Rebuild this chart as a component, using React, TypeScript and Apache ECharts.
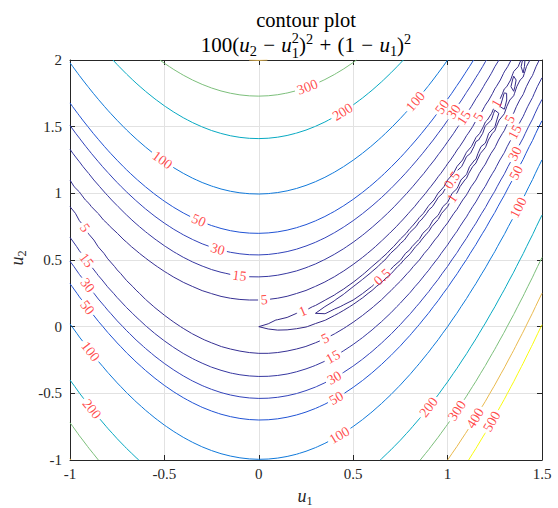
import React, { useEffect, useRef } from "react";
import * as echarts from "echarts";

const W = 558, H = 508;
const GL = 70, GT = 60, GW = 472, GH = 400;
const U1_MIN = -1, U1_MAX = 1.5, U2_MIN = -1, U2_MAX = 2, TICK_STEP = 0.5;
const GRID_STEP = 0.05;
const SERIF = "'Liberation Serif', 'DejaVu Serif', serif";

// contour levels of the plotted function (title)
const levels = [0.5, 1, 5, 15, 30, 50, 100, 200, 300, 400, 500];

// inline contour labels: level and (u1, u2) position
const labelLevel = [300, 200, 100, 50, 30, 15, 5, 1, 5, 15, 30, 50, 100, 0.5, 1, 100, 50, 30, 15, 5, 15, 30, 50, 100, 200, 5, 1, 0.5, 5, 15, 30, 50, 100, 200, 300, 400, 500];
const labelU1 = [0.255, 0.441, 0.827, 0.965, 1.034, 1.082, 1.156, 1.256, 1.331, 1.357, 1.352, 1.357, 1.368, 1.023, 1.023, -0.507, -0.317, -0.216, -0.1, -0.915, -0.91, -0.905, -0.905, -0.889, -0.878, 0.0275, 0.229, 0.653, 0.351, 0.388, 0.398, 0.404, 0.42, 0.891, 1.044, 1.145, 1.23];
const labelU2 = [1.805, 1.617, 1.692, 1.655, 1.61, 1.572, 1.58, 1.677, 1.557, 1.46, 1.3, 1.16, 0.897, 1.1, 0.965, 1.257, 0.8, 0.59, 0.395, 0.747, 0.5, 0.3125, 0.147, -0.183, -0.61, 0.215, 0.1325, 0.3725, -0.085, -0.2125, -0.378, -0.52, -0.7975, -0.595, -0.625, -0.685, -0.7075];

// MATLAB parula colormap (64 entries)
const PARULA = [[0.2081,0.1663,0.5292],[0.2116,0.1898,0.5777],[0.2123,0.2138,0.627],[0.2081,0.2386,0.6771],[0.1959,0.2645,0.7279],[0.1707,0.2919,0.7792],[0.1253,0.3242,0.8303],[0.0591,0.3598,0.8683],[0.0117,0.3875,0.882],[0.006,0.4086,0.8828],[0.0165,0.4266,0.8786],[0.0329,0.443,0.872],[0.0498,0.4586,0.8641],[0.0629,0.4737,0.8554],[0.0723,0.4887,0.8467],[0.0779,0.504,0.8384],[0.0793,0.52,0.8312],[0.0749,0.5375,0.8263],[0.0641,0.557,0.824],[0.0488,0.5772,0.8228],[0.0343,0.5966,0.8199],[0.0265,0.6137,0.8135],[0.0239,0.6287,0.8038],[0.0231,0.6418,0.7913],[0.0228,0.6535,0.7768],[0.0267,0.6642,0.7607],[0.0384,0.6743,0.7436],[0.059,0.6838,0.7254],[0.0843,0.6928,0.7062],[0.1133,0.7015,0.6859],[0.1453,0.7098,0.6646],[0.1801,0.7177,0.6424],[0.2178,0.725,0.6193],[0.2586,0.7317,0.5954],[0.3022,0.7376,0.5712],[0.3482,0.7424,0.5473],[0.3953,0.7459,0.5244],[0.442,0.7481,0.5033],[0.4871,0.7491,0.484],[0.53,0.7491,0.4661],[0.5709,0.7485,0.4494],[0.6099,0.7473,0.4337],[0.6473,0.7456,0.4188],[0.6834,0.7435,0.4044],[0.7184,0.7411,0.3905],[0.7525,0.7384,0.3768],[0.7858,0.7356,0.3633],[0.8185,0.7327,0.3498],[0.8507,0.7299,0.336],[0.8824,0.7274,0.3217],[0.9139,0.7258,0.3063],[0.945,0.7261,0.2886],[0.9739,0.7314,0.2666],[0.9938,0.7455,0.2403],[0.999,0.7653,0.2164],[0.9955,0.7861,0.1967],[0.988,0.8066,0.1794],[0.9789,0.8271,0.1633],[0.9697,0.8481,0.1475],[0.9626,0.8705,0.1309],[0.9589,0.8949,0.1132],[0.9598,0.9218,0.0948],[0.9661,0.9514,0.0755],[0.9763,0.9831,0.0538]];

function steps(a: number, b: number, h: number): number[] {
  const n = Math.round((b - a) / h);
  return Array.from({ length: n + 1 }, (_, i) => +(a + i * h).toFixed(10));
}
const u1Grid = steps(U1_MIN, U1_MAX, GRID_STEP);
const u2Grid = steps(U2_MIN, U2_MAX, GRID_STEP);
const rosenbrock = (u1: number, u2: number) => 100 * (u2 - u1 * u1) ** 2 + (1 - u1) ** 2;
const Z = u2Grid.map((y) => u1Grid.map((x) => rosenbrock(x, y)));

const SX = GW / (U1_MAX - U1_MIN), SY = GH / (U2_MAX - U2_MIN);
const toPx = (p: number[]) => [GL + (p[0] - U1_MIN) * SX, GT + (U2_MAX - p[1]) * SY];
const fromPx = (p: number[]) => [p[0] / SX - GL / SX + U1_MIN, U2_MAX - (p[1] - GT) / SY];

function levelColor(L: number): string {
  const t = (L - levels[0]) / (levels[levels.length - 1] - levels[0]);
  const c = PARULA[Math.max(0, Math.min(63, Math.round(t * 63)))];
  return "rgb(" + c.map((v) => Math.round(v * 255)).join(",") + ")";
}

function buildContours(L: number): number[][][] {
  const nx = u1Grid.length, ny = u2Grid.length;
  const pts = new Map<number, number[]>();
  const segs: number[][] = [];
  const ptH = (i: number, j: number) => {
    const k = (j * nx + i) * 2;
    if (!pts.has(k)) {
      const a = Z[j][i], b = Z[j][i + 1];
      const t = (L - a) / (b - a);
      pts.set(k, [u1Grid[i] + t * (u1Grid[i + 1] - u1Grid[i]), u2Grid[j]]);
    }
    return k;
  };
  const ptV = (i: number, j: number) => {
    const k = (j * nx + i) * 2 + 1;
    if (!pts.has(k)) {
      const a = Z[j][i], b = Z[j + 1][i];
      const t = (L - a) / (b - a);
      pts.set(k, [u1Grid[i], u2Grid[j] + t * (u2Grid[j + 1] - u2Grid[j])]);
    }
    return k;
  };
  for (let j = 0; j < ny - 1; j++) {
    for (let i = 0; i < nx - 1; i++) {
      const z00 = Z[j][i], z10 = Z[j][i + 1], z11 = Z[j + 1][i + 1], z01 = Z[j + 1][i];
      const a00 = z00 > L, a10 = z10 > L, a11 = z11 > L, a01 = z01 > L;
      const cross: number[] = [];
      if (a00 !== a10) cross.push(ptH(i, j));
      if (a10 !== a11) cross.push(ptV(i + 1, j));
      if (a01 !== a11) cross.push(ptH(i, j + 1));
      if (a00 !== a01) cross.push(ptV(i, j));
      if (cross.length === 2) segs.push([cross[0], cross[1]]);
      else if (cross.length === 4) {
        const [b, r, t, l] = cross;
        const c = (z00 + z10 + z11 + z01) / 4 > L;
        if (c === a00) { segs.push([b, r]); segs.push([t, l]); }
        else { segs.push([l, b]); segs.push([r, t]); }
      }
    }
  }
  const adj = new Map<number, number[]>();
  segs.forEach((s, idx) => {
    for (const e of s) {
      if (!adj.has(e)) adj.set(e, []);
      adj.get(e)!.push(idx);
    }
  });
  const used = new Array(segs.length).fill(false);
  const polys: number[][][] = [];
  for (let s = 0; s < segs.length; s++) {
    if (used[s]) continue;
    used[s] = true;
    const chain = [segs[s][0], segs[s][1]];
    let cur = segs[s][1];
    for (;;) {
      const nxt = (adj.get(cur) || []).find((k) => !used[k]);
      if (nxt === undefined) break;
      used[nxt] = true;
      const other = segs[nxt][0] === cur ? segs[nxt][1] : segs[nxt][0];
      chain.push(other);
      cur = other;
    }
    cur = segs[s][0];
    for (;;) {
      const nxt = (adj.get(cur) || []).find((k) => !used[k]);
      if (nxt === undefined) break;
      used[nxt] = true;
      const other = segs[nxt][0] === cur ? segs[nxt][1] : segs[nxt][0];
      chain.unshift(other);
      cur = other;
    }
    polys.push(chain.map((e) => pts.get(e)!));
  }
  return polys;
}

let measureCtx: CanvasRenderingContext2D | null = null;
function textW(t: string, size: number, italic: boolean): number {
  if (!measureCtx) measureCtx = document.createElement("canvas").getContext("2d");
  measureCtx!.font = (italic ? "italic " : "") + size + "px " + SERIF;
  return measureCtx!.measureText(t).width;
}

type Rect = { cx: number; cy: number; ex: number[]; ny: number[]; hw: number; hh: number };

function insideInterval(p0: number[], p1: number[], r: Rect): number[] | null {
  const u0 = (p0[0] - r.cx) * r.ex[0] + (p0[1] - r.cy) * r.ex[1];
  const v0 = (p0[0] - r.cx) * r.ny[0] + (p0[1] - r.cy) * r.ny[1];
  const u1 = (p1[0] - r.cx) * r.ex[0] + (p1[1] - r.cy) * r.ex[1];
  const v1 = (p1[0] - r.cx) * r.ny[0] + (p1[1] - r.cy) * r.ny[1];
  let t0 = 0, t1 = 1;
  const clip = (a: number, da: number, lim: number) => {
    if (Math.abs(da) < 1e-12) return Math.abs(a) < lim;
    let ta = (-lim - a) / da, tb = (lim - a) / da;
    if (ta > tb) [ta, tb] = [tb, ta];
    t0 = Math.max(t0, ta); t1 = Math.min(t1, tb);
    return t0 < t1;
  };
  if (!clip(u0, u1 - u0, r.hw)) return null;
  if (!clip(v0, v1 - v0, r.hh)) return null;
  return [t0, t1];
}

function clipPolyline(poly: number[][], rects: Rect[]): number[][][] {
  const out: number[][][] = [];
  let cur: number[][] = [];
  const lerp = (a: number[], b: number[], t: number) => [a[0] + (b[0] - a[0]) * t, a[1] + (b[1] - a[1]) * t];
  for (let k = 0; k < poly.length - 1; k++) {
    const p0 = poly[k], p1 = poly[k + 1];
    let ivals: number[][] = [[0, 1]];
    for (const r of rects) {
      const ins = insideInterval(p0, p1, r);
      if (!ins) continue;
      const next: number[][] = [];
      for (const iv of ivals) {
        if (ins[1] <= iv[0] || ins[0] >= iv[1]) { next.push(iv); continue; }
        if (ins[0] > iv[0]) next.push([iv[0], ins[0]]);
        if (ins[1] < iv[1]) next.push([ins[1], iv[1]]);
      }
      ivals = next;
    }
    if (ivals.length === 0) {
      if (cur.length >= 2) out.push(cur);
      cur = [];
      continue;
    }
    for (const iv of ivals) {
      const a = lerp(p0, p1, iv[0]), b = lerp(p0, p1, iv[1]);
      if (iv[0] > 1e-9 || cur.length === 0) {
        if (cur.length >= 2) out.push(cur);
        cur = [a];
      }
      cur.push(b);
      if (iv[1] < 1 - 1e-9) {
        if (cur.length >= 2) out.push(cur);
        cur = [];
      }
    }
  }
  if (cur.length >= 2) out.push(cur);
  return out;
}

type Piece = { t?: string; it?: boolean; k?: "sub" | "sup" | "ss"; sup?: string; sub?: string; gap?: number };

function mathRow(pieces: Piece[], F: number, color: string): any[] {
  const children: any[] = [];
  let x = 0;
  const add = (t: string, size: number, it: boolean, dy: number) => {
    children.push({
      type: "text", x, y: dy - 0.34 * size, silent: true,
      style: { text: t, fontSize: size, fontFamily: SERIF, fontStyle: it ? "italic" : "normal", fill: color, align: "left", verticalAlign: "middle" },
    });
  };
  for (const p of pieces) {
    if (p.gap) { x += p.gap * F; continue; }
    const s = 0.68 * F;
    if (p.k === "sub") { add(p.t!, s, false, 0.2 * F); x += textW(p.t!, s, false); }
    else if (p.k === "sup") { add(p.t!, s, false, -0.4 * F); x += textW(p.t!, s, false); }
    else if (p.k === "ss") {
      add(p.sup!, s, false, -0.43 * F); add(p.sub!, s, false, 0.27 * F);
      x += Math.max(textW(p.sup!, s, false), textW(p.sub!, s, false));
    } else { add(p.t!, F, !!p.it, 0); x += textW(p.t!, F, !!p.it); }
  }
  children.forEach((c) => (c.x -= x / 2));
  return children;
}

function buildOption(): any {
  const LABEL_FS = 14;
  const contourSeries: any[] = [];
  const labelData: any[] = [];
  const rawByLevel = levels.map((L) => buildContours(L));
  const rectsByLevel: Rect[][] = levels.map(() => []);

  labelLevel.forEach((L, n) => {
    const li = levels.indexOf(L);
    const target = toPx([labelU1[n], labelU2[n]]);
    let best = target, bd = Infinity;
    for (const poly of rawByLevel[li]) {
      const pp = poly.map(toPx);
      for (let k = 0; k < pp.length - 1; k++) {
        const a = pp[k], b = pp[k + 1];
        const dx = b[0] - a[0], dy = b[1] - a[1];
        const l2 = dx * dx + dy * dy;
        let t = l2 > 0 ? ((target[0] - a[0]) * dx + (target[1] - a[1]) * dy) / l2 : 0;
        t = Math.max(0, Math.min(1, t));
        const q = [a[0] + t * dx, a[1] + t * dy];
        const d = (q[0] - target[0]) ** 2 + (q[1] - target[1]) ** 2;
        if (d < bd) { bd = d; best = q; }
      }
    }
    const dp = fromPx(best);
    const u1 = dp[0], u2 = dp[1];
    const fx = -400 * u1 * (u2 - u1 * u1) - 2 * (1 - u1);
    const fy = 200 * (u2 - u1 * u1);
    let ang = (Math.atan2(fx * SY, -fy * SX) * 180) / Math.PI;
    if (ang > 90) ang -= 180;
    if (ang <= -90) ang += 180;
    const th = (ang * Math.PI) / 180;
    const txt = String(L);
    const w = textW(txt, LABEL_FS, false);
    rectsByLevel[li].push({ cx: best[0], cy: best[1], ex: [Math.cos(th), -Math.sin(th)], ny: [Math.sin(th), Math.cos(th)], hw: w / 2 + 2.5, hh: 6 });
    labelData.push({ name: txt, value: [u1, u2], label: { rotate: ang } });
  });

  levels.forEach((L, li) => {
    const pieces: number[][][] = [];
    for (const poly of rawByLevel[li]) {
      const pp = poly.map(toPx);
      for (const part of clipPolyline(pp, rectsByLevel[li])) pieces.push(part.map(fromPx));
    }
    contourSeries.push({
      type: "lines", name: String(L), coordinateSystem: "cartesian2d", xAxisIndex: 0, yAxisIndex: 0,
      polyline: true, silent: true, z: 3,
      lineStyle: { color: levelColor(L), width: 1, opacity: 1, curveness: 0 },
      data: pieces.map((c) => ({ coords: c })),
    });
  });

  const axisCommon = {
    type: "value",
    axisLine: { show: true, onZero: false, lineStyle: { color: "#262626", width: 1 } },
    axisTick: { show: true, inside: true, length: 5, lineStyle: { color: "#262626", width: 1 } },
  };
  const tickLabel = { color: "#262626", fontFamily: SERIF, fontSize: 15 };
  const split = { show: true, lineStyle: { color: "#e2e2e2", width: 1 } };

  const titleLine2: Piece[] = [
    { t: "100(" }, { t: "u", it: true }, { t: "2", k: "sub" }, { gap: 0.3 }, { t: "\u2212" }, { gap: 0.3 },
    { t: "u", it: true }, { k: "ss", sup: "2", sub: "1" }, { t: ")" }, { t: "2", k: "sup" },
    { gap: 0.3 }, { t: "+" }, { gap: 0.3 }, { t: "(1" }, { gap: 0.3 }, { t: "\u2212" }, { gap: 0.3 },
    { t: "u", it: true }, { t: "1", k: "sub" }, { t: ")" }, { t: "2", k: "sup" },
  ];

  return {
    animation: false,
    backgroundColor: "#ffffff",
    grid: { left: GL, top: GT, width: GW, height: GH, containLabel: false, outerBoundsMode: "none" },
    xAxis: [
      { ...axisCommon, position: "bottom", min: U1_MIN, max: U1_MAX, interval: TICK_STEP, axisLabel: { ...tickLabel, margin: 6 }, splitLine: split },
      { ...axisCommon, position: "top", min: U1_MIN, max: U1_MAX, interval: TICK_STEP, axisLabel: { show: false }, splitLine: { show: false } },
    ],
    yAxis: [
      { ...axisCommon, position: "left", min: U2_MIN, max: U2_MAX, interval: TICK_STEP, axisLabel: { ...tickLabel, margin: 8 }, splitLine: split },
      { ...axisCommon, position: "right", min: U2_MIN, max: U2_MAX, interval: TICK_STEP, axisLabel: { show: false }, splitLine: { show: false } },
    ],
    series: [
      ...contourSeries,
      {
        type: "scatter", coordinateSystem: "cartesian2d", xAxisIndex: 0, yAxisIndex: 0,
        symbolSize: 0, silent: true, z: 5,
        label: { show: true, position: "inside", formatter: "{b}", color: "#ff1a1a", fontFamily: SERIF, fontSize: LABEL_FS, align: "center", verticalAlign: "middle" },
        data: labelData,
      },
    ],
    graphic: [
      {
        type: "text", x: GL + GW / 2, y: 26.5 - 0.34 * 20.5, silent: true,
        style: { text: "contour plot", fontSize: 20.5, fontFamily: SERIF, fill: "#000", align: "center", verticalAlign: "middle" },
      },
      { type: "group", x: GL + GW / 2, y: 52, silent: true, children: mathRow(titleLine2, 21, "#000") },
      { type: "group", x: GL + GW / 2 - 1, y: 502, silent: true, children: mathRow([{ t: "u", it: true }, { t: "1", k: "sub" }], 18, "#262626") },
      { type: "group", x: 23, y: 258, rotation: Math.PI / 2, silent: true, children: mathRow([{ t: "u", it: true }, { t: "2", k: "sub" }], 18, "#262626") },
    ],
  };
}

export default function App() {
  const ref = useRef<HTMLDivElement>(null);
  useEffect(() => {
    const chart = echarts.init(ref.current!, undefined, { renderer: "svg" });
    chart.setOption(buildOption());
    return () => chart.dispose();
  }, []);
  return <div ref={ref} style={{ position: "fixed", left: 0, top: 0, width: W, height: H, background: "#fff" }} />;
}
